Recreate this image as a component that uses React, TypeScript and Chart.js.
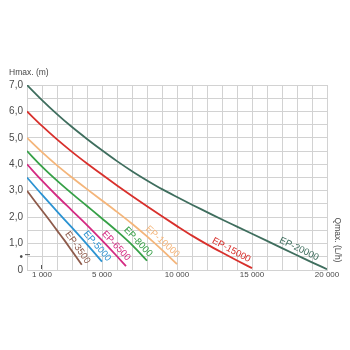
import React, { useEffect, useRef } from "react";
import { Chart, registerables } from "chart.js";

Chart.register(...registerables);

// ---- data ----
const seriesNames = ["EP-20000", "EP-15000", "EP-10000", "EP-8000", "EP-6500", "EP-5000", "EP-3500"];

const q20000 = [0, 1000, 2000, 3000, 4000, 5000, 6000, 7000, 8000, 9000, 10000, 11000, 12000, 13000, 14000, 15000, 16000, 17000, 18000, 19000, 20000];
const h20000 = [7.0, 6.43, 5.9, 5.41, 4.96, 4.53, 4.12, 3.74, 3.39, 3.06, 2.76, 2.47, 2.19, 1.91, 1.64, 1.37, 1.1, 0.83, 0.56, 0.29, 0.03];

const q15000 = [0, 1000, 2000, 3000, 4000, 5000, 6000, 7000, 8000, 9000, 10000, 11000, 12000, 13000, 14000, 15000];
const h15000 = [6.0, 5.45, 4.94, 4.47, 4.03, 3.61, 3.2, 2.8, 2.41, 2.03, 1.66, 1.3, 0.97, 0.66, 0.36, 0.07];

const q10000 = [0, 1000, 2000, 3000, 4000, 5000, 6000, 7000, 8000, 9000, 10000];
const h10000 = [5.0, 4.46, 3.96, 3.5, 3.06, 2.63, 2.2, 1.75, 1.27, 0.76, 0.22];

const q8000 = [0, 1000, 2000, 3000, 4000, 5000, 6000, 7000, 8000];
const h8000 = [4.5, 3.91, 3.38, 2.89, 2.42, 1.95, 1.47, 0.95, 0.35];

const q6500 = [0, 1000, 2000, 3000, 4000, 5000, 6000, 6600];
const h6500 = [4.0, 3.38, 2.8, 2.25, 1.7, 1.12, 0.52, 0.15];

const q5000 = [0, 1000, 2000, 3000, 4000, 5000];
const h5000 = [3.5, 2.85, 2.22, 1.6, 0.97, 0.32];

const q3500 = [0, 500, 1000, 1500, 2000, 2500, 3000, 3650];
const h3500 = [3.0, 2.62, 2.25, 1.88, 1.5, 1.12, 0.72, 0.2];

const seriesQ = [q20000, q15000, q10000, q8000, q6500, q5000, q3500];
const seriesH = [h20000, h15000, h10000, h8000, h6500, h5000, h3500];
const seriesColors = ["#3f6e5e", "#d8302c", "#f4b57a", "#36a047", "#d42a82", "#2b93d2", "#8e5b4b"];
const labelQ = [17950, 13420, 8750, 7090, 5620, 4350, 3020];

const xLabelValues = [1000, 5000, 10000, 15000, 20000];
const xLabelTexts = ["1 000", "5 000", "10 000", "15 000", "20 000"];
const yLabelValues = [0, 0.5, 1, 2, 3, 4, 5, 6, 7];
const yLabelTexts = ["0", "•", "1,0", "2,0", "3,0", "4,0", "5,0", "6,0", "7,0"];

const yTitle = "Hmax. (m)";
const xTitle = "Qmax. (L/h)";

const FONT = "'Liberation Sans', Arial, sans-serif";
const GRID = "#d2d2d2";
const TEXT = "#4a4a4a";

const labelsPlugin = {
  id: "curveLabels",
  afterDatasetsDraw(chart: any) {
    const { ctx } = chart;
    const xs = chart.scales.x;
    const ys = chart.scales.y;
    ctx.save();
    ctx.font = `9.5px ${FONT}`;
    ctx.textAlign = "center";
    ctx.textBaseline = "middle";
    seriesNames.forEach((name, i) => {
      const qs = seriesQ[i];
      const hs = seriesH[i];
      const ql = labelQ[i];
      let k = 0;
      while (k < qs.length - 2 && qs[k + 1] < ql) k++;
      const t = (ql - qs[k]) / (qs[k + 1] - qs[k]);
      const h = hs[k] + t * (hs[k + 1] - hs[k]);
      const px = xs.getPixelForValue(ql);
      const py = ys.getPixelForValue(h);
      const ang = Math.atan2(
        ys.getPixelForValue(hs[k + 1]) - ys.getPixelForValue(hs[k]),
        xs.getPixelForValue(qs[k + 1]) - xs.getPixelForValue(qs[k])
      );
      const off = 6.5;
      const cx = px + Math.sin(ang) * off;
      const cy = py - Math.cos(ang) * off;
      ctx.save();
      ctx.translate(cx, cy);
      ctx.rotate(ang);
      ctx.fillStyle = seriesColors[i];
      ctx.fillText(name, 0, 0);
      ctx.restore();
    });
    ctx.restore();
  },
  afterDraw(chart: any) {
    const { ctx, chartArea } = chart;
    const xs = chart.scales.x;
    const ys = chart.scales.y;
    ctx.save();
    // small marks near the origin
    ctx.strokeStyle = "#555";
    ctx.lineWidth = 1;
    ctx.beginPath();
    ctx.moveTo(chartArea.left - 2, ys.getPixelForValue(0.6) + 0.5);
    ctx.lineTo(chartArea.left + 3, ys.getPixelForValue(0.6) + 0.5);
    ctx.moveTo(Math.round(xs.getPixelForValue(1000)) - 0.5, chartArea.bottom - 5);
    ctx.lineTo(Math.round(xs.getPixelForValue(1000)) - 0.5, chartArea.bottom - 1);
    ctx.stroke();

    ctx.fillStyle = TEXT;
    ctx.font = `8.5px ${FONT}`;
    ctx.textAlign = "left";
    ctx.textBaseline = "middle";
    ctx.fillText(yTitle, 9, chartArea.top - 12);
    ctx.translate(chartArea.right + 10, 240);
    ctx.rotate(Math.PI / 2);
    ctx.textAlign = "center";
    ctx.fillText(xTitle, 0, 0);
    ctx.restore();
  },
};

export default function App() {
  const ref = useRef<HTMLCanvasElement | null>(null);
  useEffect(() => {
    if (!ref.current) return;
    const chart = new Chart(ref.current, {
      type: "line",
      data: {
        datasets: seriesNames.map((name, i) => ({
          label: name,
          data: seriesQ[i].map((q, j) => ({ x: q, y: seriesH[i][j] })),
          borderColor: seriesColors[i],
          backgroundColor: seriesColors[i],
          borderWidth: 1.8,
          pointRadius: 0,
          fill: false,
          tension: 0.4,
          cubicInterpolationMode: "monotone" as const,
        })),
      },
      options: {
        responsive: false,
        animation: false,
        layout: { padding: { top: 85, right: 23, left: 0, bottom: 0 } },
        plugins: { legend: { display: false }, tooltip: { enabled: false }, title: { display: false } },
        scales: {
          x: {
            type: "linear",
            min: 0,
            max: 20000,
            afterFit: (s: any) => {
              s.height = 80;
            },
            grid: { color: GRID, tickLength: 0, drawTicks: false },
            border: { color: GRID },
            ticks: {
              stepSize: 1000,
              autoSkip: false,
              maxRotation: 0,
              padding: 0,
              color: TEXT,
              font: { family: FONT, size: 8 },
              callback: (v: any) => {
                const idx = xLabelValues.indexOf(Number(v));
                return idx >= 0 ? xLabelTexts[idx] : "";
              },
            },
          },
          y: {
            type: "linear",
            min: 0,
            max: 7,
            afterFit: (s: any) => {
              s.width = 27;
            },
            grid: { color: GRID, tickLength: 0, drawTicks: false },
            border: { color: GRID },
            ticks: {
              stepSize: 0.5,
              autoSkip: false,
              padding: 4,
              color: TEXT,
              font: { family: FONT, size: 10 },
              callback: (v: any) => {
                const idx = yLabelValues.indexOf(Number(v));
                return idx >= 0 ? yLabelTexts[idx] : "";
              },
            },
          },
        },
      },
      plugins: [labelsPlugin],
    });
    return () => chart.destroy();
  }, []);
  return (
    <div style={{ position: "absolute", left: 0, top: 0, width: 350, height: 350, background: "#fff" }}>
      <canvas ref={ref} width={350} height={350} style={{ display: "block" }} />
    </div>
  );
}
